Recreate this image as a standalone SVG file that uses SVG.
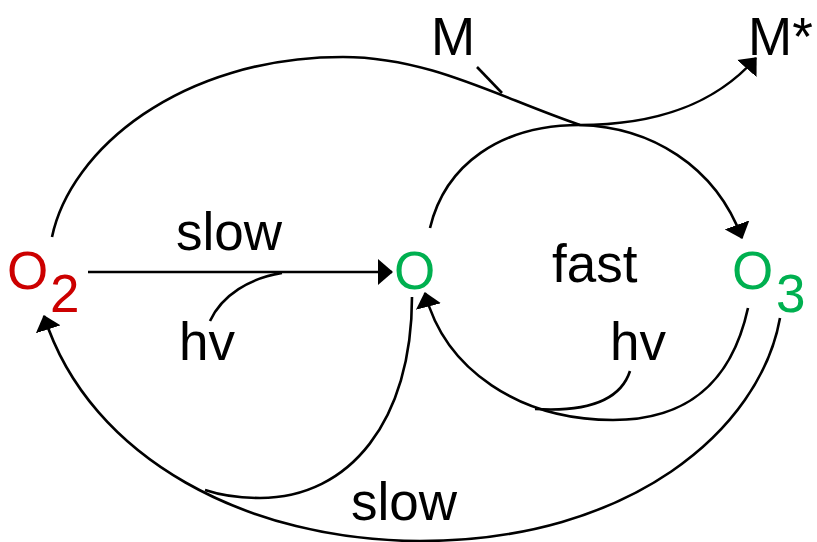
<svg xmlns="http://www.w3.org/2000/svg" width="817" height="542" viewBox="0 0 817 542">
<style>
.t{font-family:"Liberation Sans",Arial,sans-serif;font-size:53px;fill:#000}
.red{fill:#cc0000}
.grn{fill:#00b050}
.c{fill:none;stroke:#000;stroke-width:2.6}
</style>
<defs>
<marker id="ah" markerUnits="userSpaceOnUse" viewBox="0 0 15 26" markerWidth="15" markerHeight="26" refX="14" refY="13" orient="auto">
<path d="M0,0 L15,13 L0,26 Z" fill="#000"/>
</marker>
</defs>
<rect width="817" height="542" fill="#fff"/>
<g id="connectors">
<path class="c" d="M52,237 C70,150 180,57 343,57 C430,57 500,98 580,125 C650,127 715,165 742,238" marker-end="url(#ah)"/>
<path class="c" d="M430,228 C445,165 500,125 580,125 C650,125 712,108 756,58" marker-end="url(#ah)"/>
<path class="c" d="M477,67 L502,93"/>
<path class="c" d="M88,272 L392,272" marker-end="url(#ah)"/>
<path class="c" d="M210,321 C222,295 250,278 282,273"/>
<path class="c" d="M748,308 C730,390 680,420 613,420 C520,420 445,370 425,293" marker-end="url(#ah)"/>
<path class="c" d="M630,371 C620,402 585,412 535,409"/>
<path class="c" d="M412,297 C412,420 350,498 260,498 C235,498 220,495 205,490"/>
<path class="c" d="M780,318 C760,430 630,541 420,541 C250,541 90,460 44,316" marker-end="url(#ah)"/>
</g>
<g id="node-O2">
<text class="t red" x="7" y="289">O</text>
<text class="t red" x="50" y="312">2</text>
</g>
<g id="node-O">
<text class="t grn" x="394" y="289">O</text>
</g>
<g id="node-O3">
<text class="t grn" x="732" y="289">O</text>
<text class="t grn" x="776" y="312">3</text>
</g>
<g id="node-M">
<text class="t" x="431" y="55">M</text>
</g>
<g id="node-Mstar">
<text class="t" x="748" y="55">M*</text>
</g>
<g id="labels">
<text class="t" x="176" y="250">slow</text>
<text class="t" x="552" y="282">fast</text>
<text class="t" x="179" y="360">hv</text>
<text class="t" x="610" y="360">hv</text>
<text class="t" x="351" y="520">slow</text>
</g>
</svg>
